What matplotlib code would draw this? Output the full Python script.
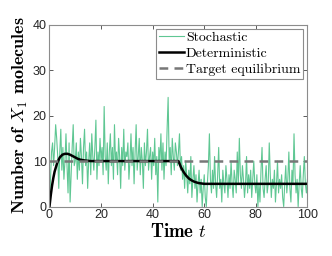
import numpy as np
import matplotlib
matplotlib.use("Agg")
import matplotlib.pyplot as plt

plt.rcParams['mathtext.fontset'] = 'cm'

# stochastic trace, one value every 0.4 time units
stoch_1 = [0, 6, 12, 14, 9, 13, 18, 15, 11, 4, 12, 17, 8, 13, 6, 10, 16, 9, 3, 14, 1, 7, 13, 18, 9,
           10, 14, 6, 12, 8, 15, 11, 5, 13, 17, 9, 12, 4, 10, 14, 7, 16, 11, 8, 13, 19, 6, 12, 9, 15,
           10, 13, 7, 22, 11, 8, 14, 5, 12, 16, 9, 13, 6, 18, 10, 12, 7, 15, 11, 4, 13, 9, 17, 8, 12,
           11, 14, 6, 10, 16, 9, 13, 5, 12, 18, 8, 11, 15, 7, 13, 10, 4, 14, 9, 12, 17, 8, 11, 13, 6,
           12, 9, 15, 7, 11, 1, 13, 10, 16, 8, 14, 6, 12, 9, 17, 24, 10, 13, 7, 15, 11, 8, 14, 12, 9]
stoch_2 = [12, 16, 8, 11, 6, 9, 4, 10, 7, 3, 8, 5, 11, 2, 6, 9, 4, 7, 1, 5, 8, 3, 6, 0, 4,
           7, 2, 0, 5, 9, 16, 6, 3, 8, 4, 11, 5, 2, 7, 13, 4, 6, 1, 8, 5, 3, 9, 6, 2, 7,
           4, 10, 5, 2, 8, 6, 3, 12, 5, 15, 7, 4, 9, 6, 2, 5, 11, 3, 7, 4, 8, 2, 6, 10, 5,
           3, 7, 0, 5, 1, 8, 13, 4, 2, 6, 9, 3, 5, 14, 7, 2, 6, 4, 8, 1, 5, 10, 3, 6, 4,
           7, 2, 0, 5, 9, 3, 6, 12, 4, 1, 8, 5, 16, 7, 3, 6, 0, 5, 9, 4, 2, 7, 11, 5, 3, 6]
stoch = stoch_1 + stoch_2
t_stoch = np.arange(len(stoch)) * 0.4

# deterministic solution
t_det = [0, 0.5, 1, 1.5, 2, 3, 4, 5, 6, 7, 8, 9, 10, 11, 12, 14, 16, 18, 20,
         50, 50.5, 51, 52, 53, 54, 55, 56, 57, 58, 60, 100]
x_det = [0, 2.5, 4.6, 6.3, 7.7, 9.6, 10.8, 11.4, 11.6, 11.6, 11.4, 11.1, 10.8, 10.5, 10.3, 10.1, 10.0, 10.0, 10.0,
         10.0, 9.3, 8.6, 7.6, 6.8, 6.2, 5.8, 5.5, 5.3, 5.15, 5.0, 5.0]

# target equilibrium
t_target = [0, 50, 50, 100]
x_target = [10, 10, 10, 10]

fig = plt.figure(figsize=(3.32, 2.56), dpi=100)
ax = fig.add_axes([0.149, 0.193, 0.777, 0.711])

ax.plot(t_stoch, stoch, color='#5fc793', lw=0.8, label='Stochastic')
ax.plot(t_det, x_det, color='black', lw=1.8, label='Deterministic')
ax.plot(t_target, x_target, color='#777777', lw=1.8, ls=(0, (3.5, 2.5)), label='Target equilibrium')

ax.set_xlim(0, 100)
ax.set_ylim(0, 40)
ax.set_xticks([0, 20, 40, 60, 80, 100])
ax.set_yticks([0, 10, 20, 30, 40])
ax.tick_params(direction='in', top=True, right=True, length=3, width=0.6,
               colors='#404040', labelcolor='#262626', labelsize=9, pad=2)
for lbl in ax.get_xticklabels() + ax.get_yticklabels():
    lbl.set_fontfamily('Liberation Sans')
for s in ax.spines.values():
    s.set_color('#8c8c8c')
    s.set_linewidth(0.8)

ax.set_xlabel('Time $t$', fontfamily='cmb10', fontsize=13.5, labelpad=1)
ax.set_ylabel('Number of $X_1$ molecules', fontfamily='cmb10', fontsize=13, labelpad=2)

leg = ax.legend(loc='upper right', prop={'family': 'cmr10', 'size': 10}, fancybox=False,
                framealpha=1, borderpad=0.2, labelspacing=0.22, handlelength=1.8,
                handletextpad=0.15, borderaxespad=0.3)
leg.get_frame().set_edgecolor('#8c8c8c')
leg.get_frame().set_linewidth(0.8)

fig.savefig('out.png', dpi=100)
